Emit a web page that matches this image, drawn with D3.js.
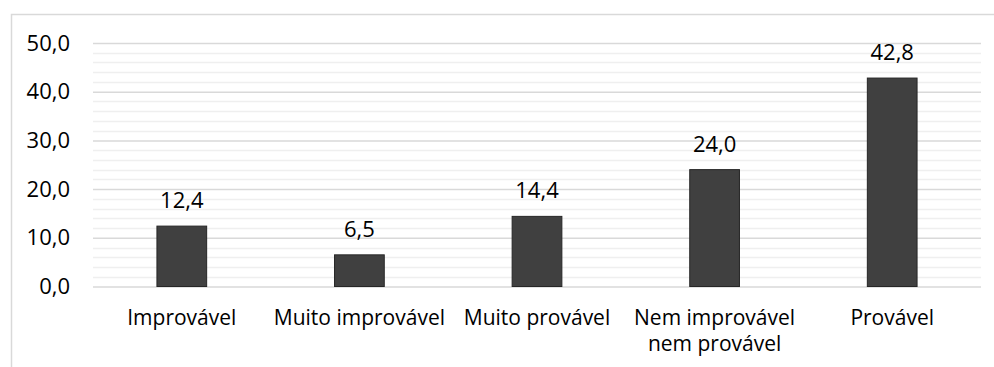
<!DOCTYPE html>
<html>
<head>
<meta charset="utf-8">
<script src="https://cdn.jsdelivr.net/npm/d3@7"></script>
<style>
  html, body { margin: 0; padding: 0; background: #fff; }
  svg { display: block; font-family: "Open Sans", "Noto Sans", sans-serif; }
</style>
</head>
<body>
<svg id="chart" width="994" height="367"></svg>
<script>
// Categories and percentages
const categories = ["Improvável", "Muito improvável", "Muito provável", "Nem improvável\nnem provável", "Provável"];
const values = [12.4, 6.5, 14.4, 24.0, 42.8];
const majorTicks = [0, 10, 20, 30, 40, 50];
const minorTicks = d3.range(0, 50.001, 2);

const svg = d3.select("#chart");
const W = 994, H = 367;
const plot = { left: 93, right: 981, top: 43, bottom: 286.5 };
const fmt = v => v.toFixed(1).replace(".", ",");

// Outer frame
svg.append("rect")
  .attr("x", 11.5).attr("y", 14.5)
  .attr("width", W + 10).attr("height", H + 10)
  .attr("fill", "#fff").attr("stroke", "#d9d9d9").attr("stroke-width", 1.5);

const x = d3.scaleBand().domain(categories).range([plot.left, plot.right]).paddingInner(0.72).paddingOuter(0.36);
const y = d3.scaleLinear().domain([0, 50]).range([plot.bottom, plot.top]);

// Minor gridlines
svg.append("g").selectAll("line")
  .data(minorTicks.filter(t => t % 10 !== 0))
  .join("line")
  .attr("x1", plot.left).attr("x2", plot.right)
  .attr("y1", d => Math.round(y(d)) + 0.5).attr("y2", d => Math.round(y(d)) + 0.5)
  .attr("stroke", "#efefef").attr("stroke-width", 1.5);

// Major gridlines and y tick labels
const yAxis = d3.axisLeft(y).tickValues(majorTicks).tickFormat(fmt)
  .tickSize(-(plot.right - plot.left)).tickPadding(23);
const gy = svg.append("g").attr("transform", `translate(${plot.left},0)`).call(yAxis);
gy.select(".domain").remove();
gy.selectAll(".tick line").attr("stroke", "#d9d9d9").attr("stroke-width", 1.5);
gy.selectAll(".tick text").attr("fill", "#000").style("font-size", "22px")
  .style("font-family", "'Open Sans', 'Noto Sans', sans-serif");

// Bars
svg.append("g").selectAll("rect")
  .data(values)
  .join("rect")
  .attr("x", (d, i) => x(categories[i]))
  .attr("y", d => y(d))
  .attr("width", x.bandwidth())
  .attr("height", d => y(0) - y(d))
  .attr("fill", "#404040").attr("stroke", "#262626").attr("stroke-width", 1);

// Value labels
svg.append("g").selectAll("text")
  .data(values)
  .join("text")
  .attr("x", (d, i) => x(categories[i]) + x.bandwidth() / 2)
  .attr("y", d => y(d) - 18)
  .attr("text-anchor", "middle")
  .style("font-size", "22px")
  .text(d => fmt(d));

// Category labels (wrapped on "\n")
const xl = svg.append("g").selectAll("text")
  .data(categories)
  .join("text")
  .attr("x", d => x(d) + x.bandwidth() / 2)
  .attr("y", 325)
  .attr("text-anchor", "middle")
  .style("font-size", "21px");
xl.each(function(d) {
  const lines = d.split("\n");
  const t = d3.select(this);
  lines.forEach((ln, k) => {
    t.append("tspan").attr("x", t.attr("x")).attr("dy", k === 0 ? 0 : 26).text(ln);
  });
});
</script>
</body>
</html>
